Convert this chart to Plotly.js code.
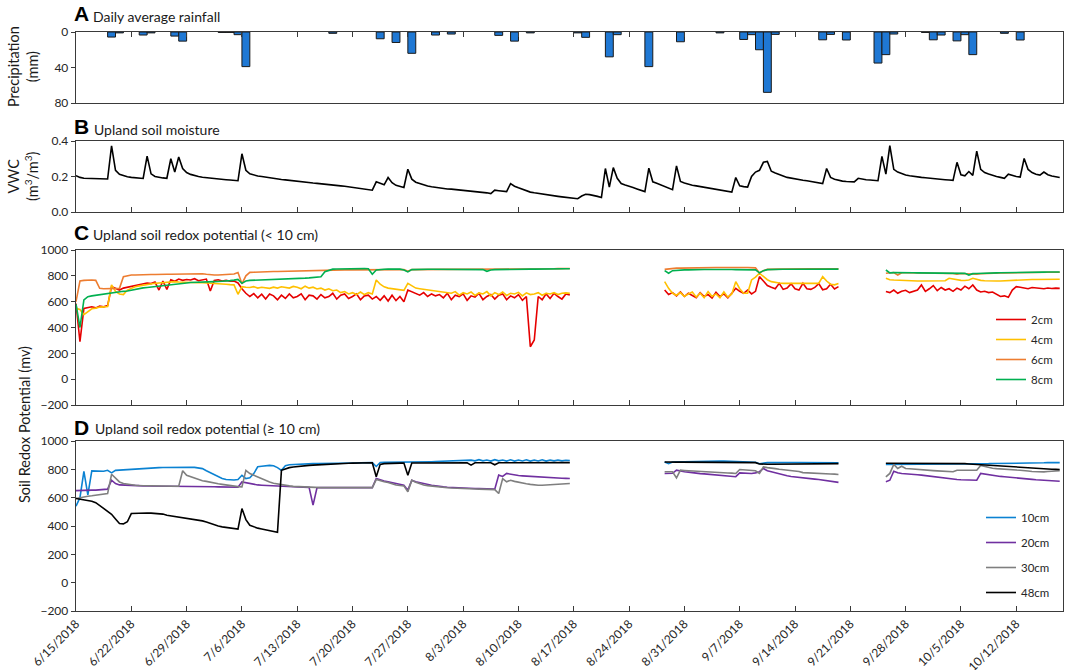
<!DOCTYPE html>
<html><head><meta charset="utf-8">
<script src="https://cdn.plot.ly/plotly-3.0.1.min.js"></script>
<style>html,body{margin:0;padding:0;background:#fff}#chart{width:1072px;height:670px}</style>
</head><body><div id="chart"></div>
<script>
const _ = null;
// Series start date and sampling step (12 h) for the sensor series
const startDate = '2018-06-15';
const stepMs = 43200000;

// A: daily rainfall (mm)
const rainDates = ['2018-06-19','2018-06-20','2018-06-23','2018-06-24','2018-06-27','2018-06-28','2018-07-03','2018-07-04','2018-07-05','2018-07-06','2018-07-17','2018-07-23','2018-07-25','2018-07-27','2018-07-30','2018-08-01','2018-08-07','2018-08-09','2018-08-11','2018-08-17','2018-08-18','2018-08-21','2018-08-22','2018-08-26','2018-08-30','2018-09-04','2018-09-07','2018-09-08','2018-09-09','2018-09-10','2018-09-11','2018-09-17','2018-09-18','2018-09-20','2018-09-24','2018-09-25','2018-09-26','2018-09-30','2018-10-01','2018-10-02','2018-10-04','2018-10-05','2018-10-06','2018-10-10','2018-10-12'];
const rainMm = [5.7,1,3.4,1,4.6,10.3,0.5,0.5,3,39,1.5,7.6,11.8,24,3.4,2.3,3.8,10.3,1,1,6,28,3,39,11,1,8.4,3,20,68,2.7,8.8,2.7,9,35,25.5,2.3,0.5,8.8,3.4,10,3,25.5,1.5,9];

// B: volumetric water content (m3/m3)
const vwc = [
0.205,0.195,0.19,0.19,0.19,0.189,0.188,0.187,0.186,0.372,
0.235,0.212,0.204,0.199,0.195,0.192,0.19,0.189,0.315,0.215,
0.2,0.195,0.192,0.19,0.30,0.225,0.31,0.245,0.222,0.212,
0.205,0.2,0.196,0.193,0.19,0.188,0.186,0.184,0.182,0.18,
0.178,0.176,0.328,0.235,0.215,0.207,0.203,0.2,0.196,0.193,
0.188,0.186,0.183,0.181,0.178,0.176,0.173,0.171,0.168,0.166,
0.163,0.161,0.158,0.156,0.153,0.151,0.149,0.147,0.145,0.142,
0.139,0.136,0.133,0.13,0.127,0.123,0.17,0.16,0.153,0.194,
0.165,0.15,0.143,0.138,0.241,0.185,0.168,0.16,0.151,0.146,
0.142,0.138,0.134,0.131,0.13,0.129,0.127,0.125,0.124,0.122,
0.12,0.117,0.114,0.111,0.108,0.104,0.123,0.12,0.117,0.115,
0.16,0.145,0.136,0.128,0.118,0.112,0.108,0.104,0.1,0.097,
0.094,0.091,0.088,0.085,0.082,0.079,0.077,0.075,0.09,0.1,
0.098,0.095,0.088,0.082,0.245,0.14,0.25,0.19,0.16,0.152,
0.143,0.138,0.13,0.124,0.115,0.247,0.17,0.162,0.153,0.145,
0.135,0.126,0.26,0.172,0.163,0.156,0.151,0.147,0.143,0.139,
0.135,0.131,0.127,0.123,0.12,0.116,0.112,0.194,0.147,0.143,
0.14,0.2,0.225,0.235,0.28,0.285,0.23,0.22,0.21,0.203,
0.195,0.19,0.186,0.183,0.179,0.176,0.172,0.168,0.165,0.16,
0.245,0.195,0.185,0.178,0.174,0.172,0.17,0.17,0.19,0.185,
0.182,0.18,0.178,0.176,0.313,0.213,0.374,0.24,0.225,0.215,
0.208,0.204,0.2,0.197,0.195,0.193,0.19,0.188,0.186,0.184,
0.182,0.18,0.178,0.28,0.21,0.204,0.228,0.206,0.343,0.24,
0.222,0.214,0.205,0.2,0.195,0.19,0.213,0.205,0.2,0.197,
0.302,0.24,0.222,0.213,0.208,0.225,0.21,0.203,0.198,0.194];

// C: redox potential (mV), < 10 cm
const eh2cm = [
585,290,548,555,560,552,565,560,570,716,
700,690,705,712,718,726,732,738,745,740,
752,690,760,695,770,758,775,765,772,768,
778,762,770,775,683,765,770,760,765,758,
760,745,700,665,640,662,630,658,620,660,
645,615,650,625,660,630,640,660,615,650,
645,620,655,630,640,665,620,650,660,625,
640,660,615,645,650,620,640,610,645,605,
650,608,640,600,690,675,665,650,670,640,
660,645,655,630,665,615,650,640,660,610,
645,635,665,615,640,655,620,650,660,615,
645,630,655,610,640,251,303,640,615,660,
625,665,640,620,660,652,
_,_,_,_,_,_,_,_,_,_,_,_,_,_,_,_,_,_,_,_,_,_,_,
690,
655,670,645,675,640,665,650,630,670,640,
655,628,672,640,660,630,665,703,680,665,
690,660,680,794,760,725,712,700,742,695,
705,738,700,690,742,700,695,710,740,692,
700,735,698,716,
_,_,_,_,_,_,_,_,_,_,_,
678,
670,690,665,680,688,670,680,690,729,680,
700,725,685,710,690,700,680,705,690,720,
700,729,690,675,680,670,675,660,640,645,
634,690,716,712,705,700,710,708,704,700,
706,702,705,703];

const eh4cm = [
548,540,500,525,545,550,558,560,562,729,
680,660,655,690,705,716,722,728,735,740,
742,745,748,752,755,755,752,750,750,748,
748,747,746,745,744,742,740,738,735,732,
730,657,716,712,710,716,705,712,708,703,
712,705,715,708,705,718,712,700,720,705,
712,698,705,690,700,685,690,670,678,660,
670,655,675,655,670,660,768,735,715,705,
700,695,690,688,742,720,705,700,696,690,
688,682,678,675,670,665,678,650,670,660,
675,648,668,660,678,645,670,655,675,648,
665,660,672,645,668,655,660,670,650,665,
660,670,655,665,668,665,
_,_,_,_,_,_,_,_,_,_,_,_,_,_,_,_,_,_,_,_,_,_,_,
755,
703,665,650,670,640,660,675,635,665,630,
678,640,660,630,675,635,660,755,700,665,
665,768,790,820,794,770,755,748,745,742,
742,742,742,740,740,742,742,740,742,794,
760,735,730,740,
_,_,_,_,_,_,_,_,_,_,_,
781,
770,768,766,765,765,763,762,760,760,760,
762,758,760,760,762,781,775,768,765,764,
768,781,770,765,762,760,758,760,760,762,
764,766,768,768,770,770,772,772,773,772,
774,773,774,774];

const eh6cm = [
600,760,765,768,768,765,703,700,700,700,
702,703,793,800,806,806,808,808,810,810,
810,812,812,812,812,813,813,814,815,816,
818,819,816,812,808,806,806,808,810,812,
814,826,738,800,827,828,830,830,832,833,
834,834,835,835,836,836,837,838,840,841,
843,844,845,845,845,845,845,845,846,846,
846,846,847,847,847,847,848,848,848,848,
848,848,848,848,835,848,848,849,849,849,
849,849,850,850,850,850,850,850,851,851,
851,851,852,852,852,852,852,852,853,853,
853,853,853,853,854,854,854,854,855,855,
855,855,856,856,856,857,
_,_,_,_,_,_,_,_,_,_,_,_,_,_,_,_,_,_,_,_,_,_,_,
850,
855,858,860,860,861,862,862,862,863,863,
864,864,864,864,865,865,865,865,865,865,
864,863,862,822,840,850,852,852,852,852,
853,853,853,853,853,853,854,854,854,854,
854,855,855,855,
_,_,_,_,_,_,_,_,_,_,_,
820,
822,826,806,824,824,823,822,821,821,820,
820,820,819,819,818,818,818,812,818,817,
815,810,812,816,818,820,821,821,822,822,
823,823,824,824,825,825,826,826,827,827,
828,828,828,828];

const eh8cm = [
580,400,613,639,645,650,655,657,660,665,
670,675,680,683,690,698,703,707,710,714,
718,722,724,728,732,735,738,742,745,748,
750,752,754,755,755,755,756,757,760,763,
767,772,742,760,765,766,767,767,768,769,
770,772,773,774,775,776,778,780,782,784,
786,789,793,832,845,852,853,854,855,856,
857,857,856,856,855,812,845,850,851,852,
852,852,852,845,830,848,850,850,851,851,
851,851,850,850,851,851,850,850,850,850,
850,849,849,848,835,845,848,849,849,850,
850,850,851,851,852,852,852,853,853,853,
854,854,854,855,855,855,
_,_,_,_,_,_,_,_,_,_,_,_,_,_,_,_,_,_,_,_,_,_,_,
840,
820,840,843,845,846,846,848,848,849,849,
849,850,850,850,850,849,849,848,848,848,
848,847,846,823,840,848,850,850,850,851,
851,851,851,851,851,852,852,852,852,852,
852,852,852,852,
_,_,_,_,_,_,_,_,_,_,_,
845,
823,825,826,826,825,824,824,823,823,822,
822,822,821,821,820,820,820,820,820,819,
806,817,818,820,821,822,823,823,824,824,
825,825,826,826,827,827,828,828,829,829,
830,830,830,830];

// D: redox potential (mV), >= 10 cm
const eh10cm = [
540,600,785,620,789,789,788,786,793,775,
793,795,798,800,803,805,806,808,810,810,
812,812,813,814,815,815,816,816,816,815,
814,812,805,790,775,760,748,735,728,724,
725,728,758,735,740,770,818,822,826,828,
825,812,793,825,832,834,836,838,838,839,
840,840,840,841,841,842,842,843,843,844,
845,845,846,846,847,847,820,848,849,849,
850,850,850,850,850,851,851,852,852,853,
854,855,856,857,858,859,860,862,863,864,
865,860,868,860,866,858,868,860,866,858,
867,858,866,859,867,858,866,859,867,858,
866,860,866,860,864,862,
_,_,_,_,_,_,_,_,_,_,_,_,_,_,_,_,_,_,_,_,_,_,_,
852,
840,852,853,854,855,855,857,858,858,858,
858,859,859,859,858,857,856,855,855,854,
853,852,850,840,845,847,847,848,848,848,
848,848,848,848,848,848,847,848,848,848,
848,847,847,846,
_,_,_,_,_,_,_,_,_,_,_,
835,
835,836,836,836,836,836,836,836,836,836,
836,836,836,836,836,836,837,837,837,837,
838,838,840,840,840,840,841,841,842,842,
843,843,843,844,844,844,845,845,846,846,
847,847,847,847];

const eh20cm = [
650,652,652,652,653,653,654,655,660,723,
700,690,688,686,685,684,683,683,682,682,
682,681,681,681,680,680,680,680,680,679,
679,679,678,678,678,677,676,676,675,675,
674,674,711,705,698,694,690,688,686,684,
683,681,680,679,678,677,676,675,674,673,
547,670,671,671,671,671,671,671,671,671,
671,671,671,671,671,671,735,725,718,712,
705,700,694,688,653,722,712,705,697,693,
688,684,678,676,674,672,670,669,668,667,
666,665,664,663,662,661,660,759,750,771,
765,760,756,754,752,750,748,746,742,741,
740,739,738,737,736,735,
_,_,_,_,_,_,_,_,_,_,_,_,_,_,_,_,_,_,_,_,_,_,_,
771,
771,772,794,786,783,780,775,772,770,768,
766,764,762,760,758,755,752,748,775,773,
772,771,775,783,806,790,783,775,768,762,
755,750,746,743,740,737,734,731,728,725,
720,716,712,708,
_,_,_,_,_,_,_,_,_,_,_,
712,
723,787,776,771,770,768,765,762,759,755,
752,749,745,741,738,734,731,728,726,724,
723,722,723,771,766,762,758,754,750,748,
746,744,741,738,735,732,729,726,724,722,
720,718,717,716];

const eh30cm = [
594,600,608,610,613,616,620,624,629,765,
735,711,700,695,690,688,686,685,684,684,
683,683,682,682,681,681,681,790,758,748,
738,728,720,715,708,703,698,694,689,684,
681,678,676,793,770,758,742,730,718,710,
702,696,690,686,683,680,678,676,674,673,
672,672,671,671,671,671,671,671,671,671,
671,671,671,671,671,671,728,718,712,707,
698,690,686,683,641,723,708,698,690,685,
681,678,675,672,670,668,666,665,664,663,
662,661,660,659,658,658,657,629,735,712,
723,715,708,703,698,694,690,688,688,690,
692,694,696,697,698,700,
_,_,_,_,_,_,_,_,_,_,_,_,_,_,_,_,_,_,_,_,_,_,_,
783,
783,783,740,794,792,790,787,785,783,782,
780,779,777,776,775,774,773,771,799,797,
795,792,790,772,817,812,810,805,800,797,
795,792,788,785,777,775,773,771,770,769,
768,767,766,764,
_,_,_,_,_,_,_,_,_,_,_,
747,
771,835,806,822,806,804,801,799,797,795,
793,791,789,787,786,785,783,794,794,794,
794,794,794,828,820,812,808,805,802,800,
798,796,795,794,793,788,785,783,780,782,
785,787,789,790];

const eh48cm = [
594,590,587,582,575,565,545,525,505,483,
450,418,415,430,488,490,492,493,492,491,
490,488,484,476,472,468,465,461,456,452,
447,443,436,428,418,408,400,394,390,385,
382,378,523,445,405,394,385,379,372,368,
362,356,793,805,812,816,820,823,826,828,
830,832,834,836,838,839,840,841,842,843,
844,845,845,846,846,846,747,835,840,842,
843,843,844,844,759,845,845,845,845,845,
846,846,846,846,846,846,846,846,846,846,
830,846,846,846,846,846,832,846,846,846,
846,846,846,846,846,847,847,847,847,847,
847,847,847,847,847,847,
_,_,_,_,_,_,_,_,_,_,_,_,_,_,_,_,_,_,_,_,_,_,_,
852,
850,850,851,851,851,851,850,850,850,850,
850,850,849,849,849,849,849,848,848,848,
848,848,847,838,835,836,836,836,837,837,
837,837,838,838,838,838,839,839,839,839,
840,840,840,840,
_,_,_,_,_,_,_,_,_,_,_,
843,
843,843,843,843,842,842,842,842,842,841,
841,841,841,841,841,842,845,844,842,840,
838,836,834,832,830,828,826,824,822,820,
818,816,814,812,810,808,806,805,804,803,
802,801,800,799];

const depthNamesC = ['2cm','4cm','6cm','8cm'];
const depthNamesD = ['10cm','20cm','30cm','48cm'];
const seriesC = [eh2cm, eh4cm, eh6cm, eh8cm];
const seriesD = [eh10cm, eh20cm, eh30cm, eh48cm];
const colorsC = ['#e60000','#ffc000','#ed7d31','#00b050'];
const colorsD = ['#0b82d2','#7030a0','#7f7f7f','#000000'];

const FONT = 'Lato, "Open Sans", sans-serif';
const traces = [];
traces.push({type:'bar', x: rainDates, y: rainMm, xaxis:'x4', yaxis:'y4',
  xperiod: 86400000, xperiodalignment: 'middle', width: 86400000,
  marker:{color:'#1f78d4', line:{color:'#1a1a1a', width:1}}, showlegend:false});
traces.push({type:'scatter', mode:'lines', x0: startDate, dx: stepMs, y: vwc, xaxis:'x3', yaxis:'y3',
  line:{color:'#000', width:1.6}, showlegend:false});
seriesC.forEach((s,i)=>traces.push({type:'scatter', mode:'lines', x0:startDate, dx:stepMs, y:s,
  xaxis:'x2', yaxis:'y2', name:depthNamesC[i], legendgroup:'c'+i, legend:'legend',
  connectgaps:false, line:{color:colorsC[i], width:1.6}}));
seriesD.forEach((s,i)=>traces.push({type:'scatter', mode:'lines', x0:startDate, dx:stepMs, y:s,
  xaxis:'x', yaxis:'y', name:depthNamesD[i], legendgroup:'d'+i, legend:'legend2',
  connectgaps:false, line:{color:colorsD[i], width:1.6}}));

const H = 579, T = 611; // plot-area helpers (paper height px, bottom px)
const py = v => (T - v) / H;
const px = v => (v - 76) / 987;
const frame = {showline:true, mirror:true, linecolor:'#3a3a3a', linewidth:1.3, showgrid:false, zeroline:false};
const xr = ['2018-06-15','2018-10-17 22:00'];
const xbase = Object.assign({}, frame, {type:'date', range:xr, tick0:'2018-06-15', dtick:7*86400000,
  ticks:'inside', ticklen:5, tickcolor:'#3a3a3a'});
const ybase = Object.assign({}, frame, {ticks:'outside', ticklen:4, tickcolor:'#3a3a3a',
  tickfont:{family:FONT, size:12, color:'#262626'}});

const layout = {
  width:1072, height:670, margin:{l:76, r:9, t:32, b:59},
  paper_bgcolor:'#fff', plot_bgcolor:'#fff', font:{family:FONT, color:'#262626'},
  xaxis: Object.assign({}, xbase, {anchor:'y', tickformat:'%-m/%-d/%Y', tickangle:-45,
    tickfont:{family:FONT, size:12, color:'#262626'}}),
  xaxis2: Object.assign({}, xbase, {anchor:'y2', matches:'x', showticklabels:false}),
  xaxis3: Object.assign({}, xbase, {anchor:'y3', matches:'x', showticklabels:false}),
  xaxis4: Object.assign({}, xbase, {anchor:'y4', matches:'x', showticklabels:false, side:'top'}),
  yaxis: Object.assign({}, ybase, {domain:[0, py(441)], range:[-200,1000], dtick:200, anchor:'x'}),
  yaxis2: Object.assign({}, ybase, {domain:[py(405), py(250)], range:[-200,1000], dtick:200, anchor:'x2'}),
  yaxis3: Object.assign({}, ybase, {domain:[py(212), py(141)], range:[0,0.4], tickvals:[0,0.2,0.4], tickformat:'.1f', anchor:'x3'}),
  yaxis4: Object.assign({}, ybase, {domain:[py(103), 1], range:[80,0], tickvals:[0,40,80], anchor:'x4'}),
  legend: {x:px(991), xanchor:'left', y:py(305), yanchor:'top', bgcolor:'rgba(0,0,0,0)',
    font:{family:FONT, size:11.5, color:'#262626'}, tracegroupgap:1},
  legend2: {x:px(981), xanchor:'left', y:py(503), yanchor:'top', bgcolor:'rgba(0,0,0,0)',
    font:{family:FONT, size:11.5, color:'#262626'}, tracegroupgap:6},
  bargap:0,
  annotations: [
    {text:'<b>A</b>', x:px(72), y:py(13)},
    {text:'<b>B</b>', x:px(72), y:py(127)},
    {text:'<b>C</b>', x:px(72), y:py(232.5)},
    {text:'<b>D</b>', x:px(72), y:py(427.5)}
  ].map(a=>Object.assign(a,{xref:'paper', yref:'paper', xanchor:'left', yanchor:'middle', showarrow:false,
    font:{family:'Liberation Sans, Arial, sans-serif', size:21, color:'#000'}})).concat([
    {text:'Daily average rainfall', x:px(91), y:py(17)},
    {text:'Upland soil moisture', x:px(92), y:py(129)},
    {text:'Upland soil redox potential (&lt; 10 cm)', x:px(91), y:py(235)},
    {text:'Upland soil redox potential (≥ 10 cm)', x:px(92.5), y:py(428)}
  ].map(a=>Object.assign(a,{xref:'paper', yref:'paper', xanchor:'left', yanchor:'middle', showarrow:false,
    font:{family:FONT, size:14, color:'#1a1a1a'}}))).concat([
    {text:'Precipitation<br>(mm)', x:px(23), y:py(67)},
    {text:'VWC<br>(m<sup>3</sup>/m<sup>3</sup>)', x:px(23), y:py(176)},
    {text:'Soil Redox Potential (mv)', x:px(24), y:py(425)}
  ].map(a=>Object.assign(a,{xref:'paper', yref:'paper', xanchor:'center', yanchor:'middle', showarrow:false,
    textangle:-90, font:{family:FONT, size:14.5, color:'#1a1a1a'}})))
};

Plotly.newPlot('chart', traces, layout, {displayModeBar:false, staticPlot:true});
</script></body></html>
